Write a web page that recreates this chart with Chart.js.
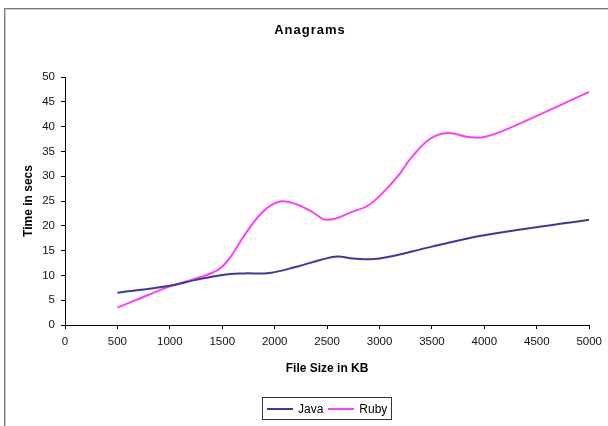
<!DOCTYPE html>
<html>
<head>
<meta charset="utf-8">
<script src="https://cdn.jsdelivr.net/npm/chart.js@4"></script>
<style>
  html, body { margin: 0; padding: 0; background: #fff; }
  #wrap { position: relative; width: 608px; height: 426px; overflow: hidden; background: #fff; }
  #frame { position: absolute; left: 4px; top: 8px; width: 700px; height: 500px;
           border-left: 1px solid #7a7a7a; border-top: 1px solid #7a7a7a;
           box-shadow: inset 1px 1px 0 #c8c8c8; pointer-events: none; }
  #title { position: absolute; left: 0; top: 22px; width: 620px; text-align: center;
           font: bold 13px "Liberation Sans", Arial, sans-serif; letter-spacing: 1px; color: #000; }
  #legend { position: absolute; left: 262px; top: 397px; width: 130px; height: 23px;
            border: 1px solid #333; box-sizing: border-box; display: flex; align-items: center;
            padding-left: 4px; font: 12px "Liberation Sans", Arial, sans-serif; color: #000; }
  .item { display: flex; align-items: center; margin-right: 5px; }
  .sw { display: inline-block; width: 26px; height: 2px; margin-right: 5px; }
  canvas { position: absolute; left: 0; top: 0; }
</style>
</head>
<body>
<div id="wrap">
  <canvas id="c" width="608" height="426"></canvas>
  <div id="frame"></div>
  <div id="title">Anagrams</div>
  <div id="legend"></div>
</div>
<script>
// ---- data ----
const chartTitle = "Anagrams";
const xTitle = "File Size in KB";
const yTitle = "Time in secs";
const seriesNames = ["Java", "Ruby"];

const javaX = [500, 1000, 1250, 1500, 1700, 1950, 2200, 2450, 2600, 2750, 3000, 3500, 4000, 5000];
const javaY = [6.5, 7.9, 9.1, 10.1, 10.4, 10.5, 11.7, 13.2, 13.8, 13.4, 13.4, 15.8, 18.1, 21.2];

const rubyX = [500, 650, 800, 1000, 1250, 1450, 1560, 1725, 1890, 2050, 2200, 2350, 2500, 2750, 2900, 3060, 3190, 3290, 3480, 3650, 3850, 4000, 4250, 5000];
const rubyY = [3.5, 4.8, 6.1, 7.8, 9.4, 11.0, 13.2, 18.5, 22.9, 24.9, 24.4, 22.9, 21.2, 22.9, 24.2, 27.3, 30.4, 33.4, 37.5, 38.7, 37.9, 37.9, 39.8, 47.0];

const xMin = 0, xMax = 5000, xStep = 500;
const yMin = 0, yMax = 50, yStep = 5;

const seriesColors = ["#3a3a9c", "#ff3cff"];

function pts(xs, ys) { return xs.map((x, i) => ({ x: x, y: ys[i] })); }

document.getElementById('title').textContent = chartTitle;

const FONT = '"Liberation Sans", Arial, sans-serif';

const chart = new Chart(document.getElementById('c'), {
  type: 'scatter',
  data: {
    datasets: [
      { label: seriesNames[0], data: pts(javaX, javaY), showLine: true, borderColor: seriesColors[0],
        backgroundColor: seriesColors[0], borderWidth: 2, pointRadius: 0, tension: 0.4 },
      { label: seriesNames[1], data: pts(rubyX, rubyY), showLine: true, borderColor: seriesColors[1],
        backgroundColor: seriesColors[1], borderWidth: 2, pointRadius: 0, tension: 0.4 }
    ]
  },
  options: {
    responsive: false,
    animation: false,
    devicePixelRatio: 1,
    layout: { padding: { left: 0, right: 18, top: 77, bottom: 0 } },
    plugins: {
      legend: { display: false },
      title: { display: false },
      tooltip: { enabled: false }
    },
    scales: {
      x: {
        type: 'linear', min: xMin, max: xMax,
        ticks: { stepSize: xStep, color: '#111', padding: 6, maxRotation: 0,
                 callback: (v) => String(v),
                 font: { family: FONT, size: 11.5 } },
        grid: { display: true, drawOnChartArea: false, drawTicks: true, tickLength: 4, color: '#000' },
        border: { display: true, color: '#000', width: 1 },
        title: { display: true, text: xTitle, color: '#000', padding: { top: 0, bottom: 50 },
                 font: { family: FONT, size: 12, weight: 'bold' } },
        afterFit: (s) => { s.height = 101; }
      },
      y: {
        type: 'linear', min: yMin, max: yMax,
        ticks: { stepSize: yStep, color: '#111', padding: 6,
                 callback: (v) => String(v),
                 font: { family: FONT, size: 11.5 } },
        grid: { display: true, drawOnChartArea: false, drawTicks: true, tickLength: 4, color: '#000' },
        border: { display: true, color: '#000', width: 1 },
        title: { display: true, text: yTitle, color: '#000', padding: { top: 21, bottom: 0 },
                 font: { family: FONT, size: 12, weight: 'bold' } },
        afterFit: (s) => { s.width = 65; }
      }
    }
  }
});

// HTML legend built from the chart's datasets
const leg = document.getElementById('legend');
chart.data.datasets.forEach(ds => {
  const it = document.createElement('span'); it.className = 'item';
  const sw = document.createElement('span'); sw.className = 'sw'; sw.style.background = ds.borderColor;
  const tx = document.createElement('span'); tx.textContent = ds.label;
  it.appendChild(sw); it.appendChild(tx); leg.appendChild(it);
});
</script>
</body>
</html>
